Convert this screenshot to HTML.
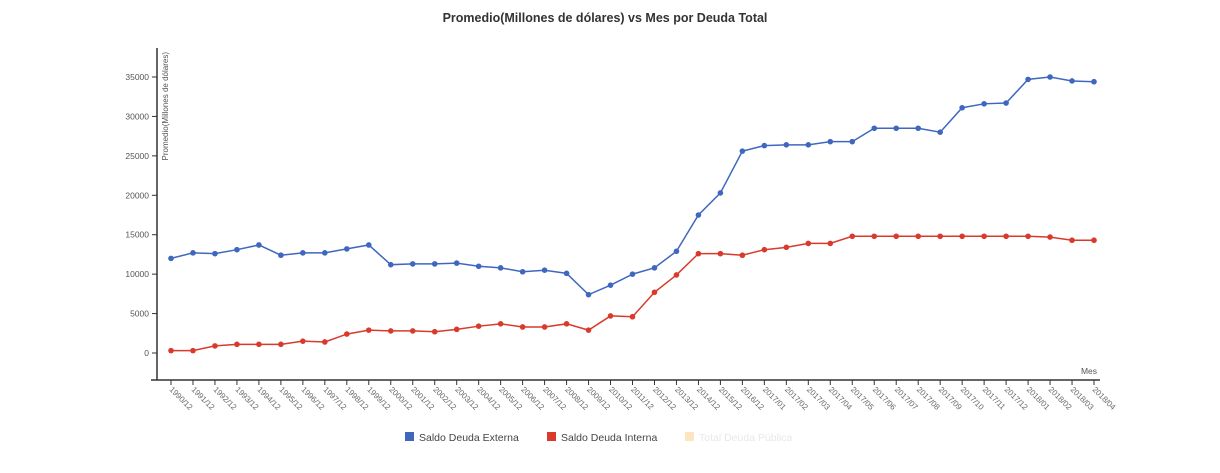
<!DOCTYPE html>
<html><head><meta charset="utf-8"><style>
body{margin:0;background:#fff;width:1220px;height:468px;overflow:hidden;font-family:"Liberation Sans",sans-serif}
svg text{font-family:"Liberation Sans",sans-serif}
</style></head><body>
<svg id="chart" width="1220" height="468">
<text x="605" y="22" text-anchor="middle" font-size="12.5" font-weight="bold" fill="#333">Promedio(Millones de dólares) vs Mes por Deuda Total</text>
<g id="axes"></g><g id="series"></g>
<g>
<g><rect x="405" y="432" width="9" height="9" fill="#3f67c0"/><text x="419" y="441" font-size="10.5" fill="#444">Saldo Deuda Externa</text></g>
<g><rect x="547" y="432" width="9" height="9" fill="#d93a2b"/><text x="561" y="441" font-size="10.5" fill="#444">Saldo Deuda Interna</text></g>
<g><rect x="685" y="432" width="9" height="9" fill="#fde5c2"/><text x="699" y="441" font-size="10.5" fill="#e8e8e8">Total Deuda Pública</text></g>
</g>
</svg>
<script>
const categories=["1990/12","1991/12","1992/12","1993/12","1994/12","1995/12","1996/12","1997/12","1998/12","1999/12","2000/12","2001/12","2002/12","2003/12","2004/12","2005/12","2006/12","2007/12","2008/12","2009/12","2010/12","2011/12","2012/12","2013/12","2014/12","2015/12","2016/12","2017/01","2017/02","2017/03","2017/04","2017/05","2017/06","2017/07","2017/08","2017/09","2017/10","2017/11","2017/12","2018/01","2018/02","2018/03","2018/04"];
const externa=[12000,12700,12600,13100,13700,12400,12700,12700,13200,13700,11200,11300,11300,11400,11000,10800,10300,10500,10100,7400,8600,10000,10800,12900,17500,20300,25600,26300,26400,26400,26800,26800,28500,28500,28500,28000,31100,31600,31700,34700,35000,34500,34400];
const interna=[300,300,900,1100,1100,1100,1500,1400,2400,2900,2800,2800,2700,3000,3400,3700,3300,3300,3700,2900,4700,4600,7700,9900,12600,12600,12400,13100,13400,13900,13900,14800,14800,14800,14800,14800,14800,14800,14800,14800,14700,14300,14300];
const yTicks=[0,5000,10000,15000,20000,25000,30000,35000];
const NS="http://www.w3.org/2000/svg";
const x0=171,x1=1094,yAxisX=157;
const xs=i=>x0+i*(x1-x0)/(categories.length-1);
const ys=v=>353-v*(353-77)/35000;
function mk(t,a,p){const e=document.createElementNS(NS,t);for(const k in a)e.setAttribute(k,a[k]);p.appendChild(e);return e;}
const ax=document.getElementById('axes'),sg=document.getElementById('series');
let l=mk('line',{x1:yAxisX,y1:48,x2:yAxisX,y2:380,stroke:'#333','stroke-width':1.5},ax);


l=mk('line',{x1:yAxisX-6,y1:380,x2:1100,y2:380,stroke:'#333','stroke-width':1.5},ax);


yTicks.forEach(v=>{mk('line',{x1:yAxisX-5,y1:ys(v),x2:yAxisX,y2:ys(v),stroke:'#333'},ax);
const t=mk('text',{x:yAxisX-8,y:ys(v)+3,'text-anchor':'end','font-size':'8.5',fill:'#555'},ax);t.textContent=v;

});
categories.forEach((c,i)=>{const x=xs(i);mk('line',{x1:x,y1:380,x2:x,y2:385,stroke:'#333'},ax);
const t=mk('text',{x:x-2,y:390,'font-size':'8',fill:'#666',transform:`rotate(45 ${x-2} 390)`},ax);t.textContent=c;

});
let t=mk('text',{x:1097,y:374,'text-anchor':'end','font-size':'8.5',fill:'#555'},ax);t.textContent='Mes';


t=mk('text',{x:0,y:0,'text-anchor':'end','font-size':'8',fill:'#555',transform:`translate(168,52) rotate(-90)`},ax);t.textContent='Promedio(Millones de dólares)';


function series(vals,color,name){
const p=mk('polyline',{points:vals.map((v,i)=>xs(i)+','+ys(v)).join(' '),fill:'none',stroke:color,'stroke-width':1.5},sg);


vals.forEach((v,i)=>{const c=mk('circle',{cx:xs(i),cy:ys(v),r:2.8,fill:color},sg);

});}
series(externa,'#3f67c0','externa');
series(interna,'#d93a2b','interna');
</script>
</body></html>
